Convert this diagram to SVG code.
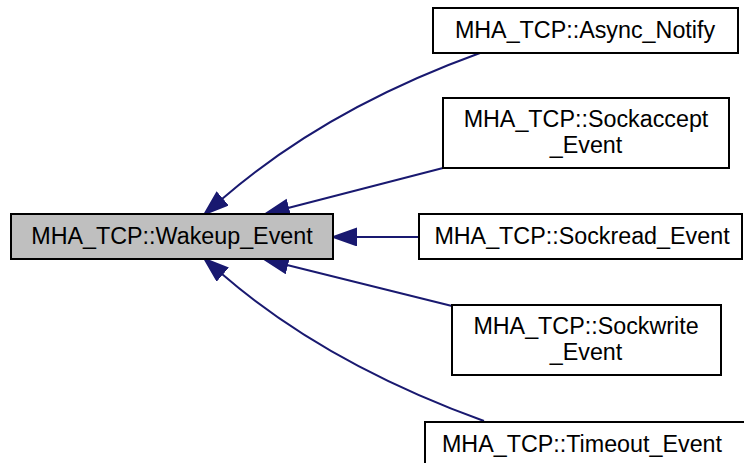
<svg xmlns="http://www.w3.org/2000/svg" width="744" height="463" viewBox="0 0 744 463">
<style>
.box{fill:#ffffff;stroke:#000000;stroke-width:2}
.main{fill:#bfbfbf;stroke:#000000;stroke-width:2}
.lbl{font-family:"Liberation Sans",Arial,sans-serif;font-size:23.3px;fill:#000000;text-anchor:middle}
.edge{fill:none;stroke:#191970;stroke-width:2}
</style>
<defs>
<marker id="arr" markerUnits="userSpaceOnUse" markerWidth="26" markerHeight="20" refX="1" refY="9" orient="auto" viewBox="0 0 26 20">
<path d="M1,1 L24,9 L1,17 z" fill="#191970" stroke="#191970" stroke-width="2"/>
</marker>
</defs>
<rect width="744" height="463" fill="#ffffff"/>
<g id="connectors">
<path class="edge" marker-end="url(#arr)" d="M480,53 C386,87 297,134 222,199"/>
<path class="edge" marker-end="url(#arr)" d="M443,168 L288,208"/>
<path class="edge" marker-end="url(#arr)" d="M419,237 L356,237"/>
<path class="edge" marker-end="url(#arr)" d="M452,306 L287,265"/>
<path class="edge" marker-end="url(#arr)" d="M484,421 C390,387 297,339 222,274"/>
</g>
<g id="node-wakeup">
<rect class="main" x="11" y="214" width="322" height="45"/>
<text class="lbl" x="172" y="244">MHA_TCP::Wakeup_Event</text>
</g>
<g id="node-async">
<rect class="box" x="433" y="8" width="305" height="45"/>
<text class="lbl" x="585" y="38">MHA_TCP::Async_Notify</text>
</g>
<g id="node-sockaccept">
<rect class="box" x="443" y="98" width="286" height="70"/>
<text class="lbl" x="586" y="127">MHA_TCP::Sockaccept</text>
<text class="lbl" x="586" y="153">_Event</text>
</g>
<g id="node-sockread">
<rect class="box" x="419" y="214" width="323" height="45"/>
<text class="lbl" x="582" y="244">MHA_TCP::Sockread_Event</text>
</g>
<g id="node-sockwrite">
<rect class="box" x="452" y="305" width="269" height="70"/>
<text class="lbl" x="586" y="334">MHA_TCP::Sockwrite</text>
<text class="lbl" x="586" y="360">_Event</text>
</g>
<g id="node-timeout">
<rect class="box" x="425" y="422" width="322" height="45"/>
<text class="lbl" x="582" y="452">MHA_TCP::Timeout_Event</text>
</g>
</svg>
